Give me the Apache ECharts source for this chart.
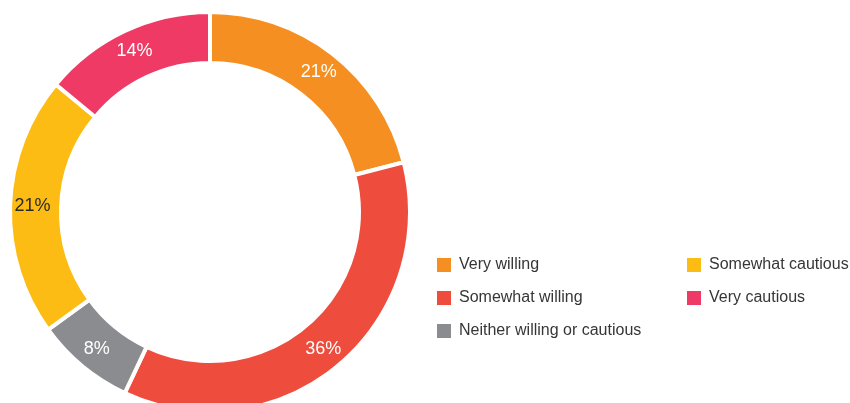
<!DOCTYPE html>
<html>
<head>
<meta charset="utf-8">
<style>
  html, body { margin: 0; padding: 0; background: #ffffff; }
  #chart { width: 850px; height: 403px; }
</style>
<script src="https://cdn.jsdelivr.net/npm/echarts@6/dist/echarts.min.js"></script>
</head>
<body>
<div id="chart"></div>
<script>
// Willingness survey: share of respondents per answer (percent)
const categories = ['Very willing', 'Somewhat willing', 'Neither willing or cautious', 'Somewhat cautious', 'Very cautious'];
const shares = [21, 36, 8, 21, 14];
const sliceColors = ['#F58F21', '#EE4C3D', '#8B8C8F', '#FCBC13', '#EE3A64'];
const labelColors = ['#ffffff', '#ffffff', '#ffffff', '#2b2b2b', '#ffffff'];

// Legend split into two columns
const legendLeft = categories.slice(0, 3);
const legendRight = categories.slice(3);

const chart = echarts.init(document.getElementById('chart'), null, { renderer: 'canvas' });

const legendBase = {
  orient: 'vertical',
  top: 257,
  padding: 0,
  icon: 'rect',
  itemWidth: 14,
  itemHeight: 14,
  itemGap: 17,
  selectedMode: false,
  itemStyle: { borderWidth: 0 },
  textStyle: {
    fontFamily: 'Liberation Sans, Arial, sans-serif',
    fontSize: 16,
    color: '#363636',
    padding: [0, 0, 0, 3]
  }
};

chart.setOption({
  animation: false,
  color: sliceColors,
  legend: [
    Object.assign({}, legendBase, { left: 437, data: legendLeft }),
    Object.assign({}, legendBase, { left: 687, data: legendRight })
  ],
  series: [{
    type: 'pie',
    center: [210, 212],
    radius: [149, 200],
    startAngle: 90,
    clockwise: true,
    avoidLabelOverlap: false,
    silent: true,
    itemStyle: { borderColor: '#ffffff', borderWidth: 4 },
    label: {
      show: true,
      position: 'inside',
      formatter: '{c}%',
      fontFamily: 'Liberation Sans, Arial, sans-serif',
      fontSize: 18,
      color: '#ffffff'
    },
    labelLine: { show: false },
    data: categories.map((name, i) => ({
      name: name,
      value: shares[i],
      label: { color: labelColors[i] }
    }))
  }]
});
</script>
</body>
</html>
